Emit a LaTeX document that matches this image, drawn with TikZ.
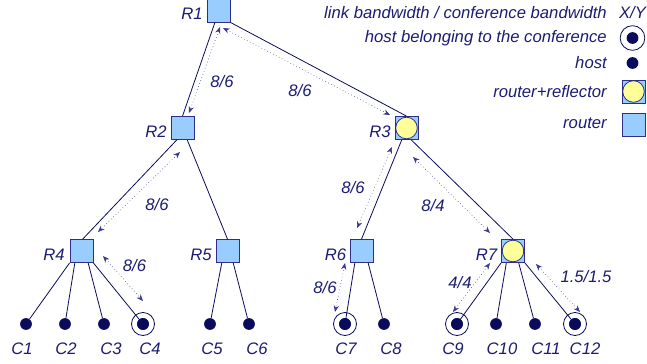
\documentclass[tikz,border=0pt]{standalone}
\usepackage{fontspec}
\setmainfont{Liberation Sans}
\usetikzlibrary{arrows.meta,calc}
\definecolor{txt}{HTML}{1C1C73}
\definecolor{dotc}{HTML}{0B0B5C}
\definecolor{rfill}{HTML}{99CCFF}
\definecolor{rborder}{HTML}{2E2E8A}
\definecolor{yfill}{HTML}{FFFF99}
\definecolor{arrc}{HTML}{3A3A90}
\tikzset{
  lbl/.style={text=txt, font=\itshape\fontsize{12.5}{14}\selectfont, inner sep=0pt},
  router/.style={draw=rborder, fill=rfill, line width=0.6pt, minimum size=17.25pt, inner sep=0pt},
  reflector/.style={router, path picture={\draw[draw=rborder, fill=yfill, line width=0.6pt] (path picture bounding box.center) circle (8.1pt);}},
  host/.style={circle, fill=dotc, minimum size=8.8pt, inner sep=0pt},
  member/.style={circle, draw=dotc, line width=0.6pt, minimum size=17.25pt, inner sep=0pt, path picture={\fill[dotc] (path picture bounding box.center) circle (4.4pt);}},
  link/.style={draw=dotc, line width=0.6pt},
  bw/.style={draw=arrc, line width=0.45pt, dotted, {Stealth[length=5pt,width=4pt]}-{Stealth[length=5pt,width=4pt]}}
}
\begin{document}
\begin{tikzpicture}[x=0.75pt,y=-0.75pt]
\useasboundingbox (0,0) rectangle (647,364);
% routers
\node[router] (R1) at (218.5,10.5) {};
\node[router] (R2) at (182.5,128) {};
\node[reflector] (R3) at (406.5,128) {};
\node[router] (R4) at (81.5,251) {};
\node[router] (R5) at (227.5,251) {};
\node[router] (R6) at (361.5,251) {};
\node[reflector] (R7) at (513,251) {};
% hosts
\node[host] (C1) at (26,324) {};
\node[host] (C2) at (65,324) {};
\node[host] (C3) at (104,324) {};
\node[member] (C4) at (143,324) {};
\node[host] (C5) at (210,324) {};
\node[host] (C6) at (249,324) {};
\node[member] (C7) at (345,324) {};
\node[host] (C8) at (384,324) {};
\node[member] (C9) at (457,324) {};
\node[host] (C10) at (496,324) {};
\node[host] (C11) at (535,324) {};
\node[member] (C12) at (575,324) {};
% router labels
\node[lbl] (lR1) at (192,14) {R1};
\node[lbl] (lR2) at (156,132) {R2};
\node[lbl] (lR3) at (380,132) {R3};
\node[lbl] (lR4) at (54,255) {R4};
\node[lbl] (lR5) at (201,255) {R5};
\node[lbl] (lR6) at (335.5,255) {R6};
\node[lbl] (lR7) at (486.5,255) {R7};
% host labels
\node[lbl] (lC1) at (22,349) {C1};
\node[lbl] (lC2) at (66,349) {C2};
\node[lbl] (lC3) at (111,349) {C3};
\node[lbl] (lC4) at (150,349) {C4};
\node[lbl] (lC5) at (212,349) {C5};
\node[lbl] (lC6) at (257,349) {C6};
\node[lbl] (lC7) at (346,349) {C7};
\node[lbl] (lC8) at (391,349) {C8};
\node[lbl] (lC9) at (453,349) {C9};
\node[lbl] (lC10) at (502,349) {C10};
\node[lbl] (lC11) at (546,349) {C11};
\node[lbl] (lC12) at (585,349) {C12};
% links between routers
\begin{scope}[on background layer/.style={}]
\draw[link] ($(R1.south west)!0.35!(R1.south east)$) -- (R2.north);
\draw[link] (R1.south east) -- (R3.north);
\draw[link] ($(R2.south west)!0.26!(R2.south east)$) -- ($(R4.north west)!0.55!(R4.north east)$);
\draw[link] ($(R2.south west)!0.7!(R2.south east)$) -- (R5.north);
\draw[link] ($(R3.south west)!0.3!(R3.south east)$) -- (R6.north);
\draw[link] ($(R3.south west)!0.7!(R3.south east)$) -- (R7.north);
% links to hosts
\draw[link] (R4.south west) -- (C1);
\draw[link] ($(R4.south west)!0.22!(R4.south east)$) -- (C2);
\draw[link] ($(R4.south west)!0.78!(R4.south east)$) -- (C3);
\draw[link] (R4.south east) -- (C4.center);
\draw[link] ($(R5.south west)!0.26!(R5.south east)$) -- (C5);
\draw[link] ($(R5.south west)!0.74!(R5.south east)$) -- (C6);
\draw[link] ($(R6.south west)!0.22!(R6.south east)$) -- (C7.center);
\draw[link] ($(R6.south west)!0.78!(R6.south east)$) -- (C8);
\draw[link] (R7.south west) -- (C9.center);
\draw[link] ($(R7.south west)!0.22!(R7.south east)$) -- (C10);
\draw[link] ($(R7.south west)!0.74!(R7.south east)$) -- (C11);
\draw[link] (R7.south east) -- (C12.center);
\end{scope}
% redraw host dots on top of link ends
\foreach \h in {C4,C7,C9,C12} {\fill[dotc] (\h.center) circle (4.4pt);}
% bandwidth arrows
\coordinate (a1s) at (220,27);  \coordinate (a1e) at (189,113);
\coordinate (a2s) at (223,28);  \coordinate (a2e) at (390,115);
\coordinate (a3s) at (180,152); \coordinate (a3e) at (98,232);
\coordinate (a4s) at (103,256); \coordinate (a4e) at (143,301);
\coordinate (a5s) at (392,147); \coordinate (a5e) at (357,228);
\coordinate (a6s) at (413,157); \coordinate (a6e) at (490,233);
\coordinate (a7s) at (345,263); \coordinate (a7e) at (335,312);
\coordinate (a8s) at (490,263); \coordinate (a8e) at (453,312);
\coordinate (a9s) at (536,264); \coordinate (a9e) at (580,312);
\foreach \i in {1,...,9} {\draw[bw] (a\i s) -- (a\i e);}
% bandwidth labels
\node[lbl] (b1) at (222,82) {8/6};
\node[lbl] (b2) at (300,91) {8/6};
\node[lbl] (b3) at (157,205) {8/6};
\node[lbl] (b4) at (134.5,266) {8/6};
\node[lbl] (b5) at (353,188) {8/6};
\node[lbl] (b6) at (433,206) {8/4};
\node[lbl] (b7) at (325,288) {8/6};
\node[lbl] (b8) at (460,283) {4/4};
\node[lbl] (b9) at (586,277) {1.5/1.5};
% legend
\node[lbl, anchor=east] (g1) at (607,13) {link bandwidth / conference bandwidth};
\node[lbl] (g1s) at (632.5,13) {X/Y};
\node[lbl, anchor=east] (g2) at (607,38) {host belonging to the conference};
\node[member, minimum size=18.5pt] (g2s) at (632.5,38) {};
\node[lbl, anchor=east] (g3) at (607,63) {host};
\node[host] (g3s) at (632.5,63) {};
\node[lbl, anchor=east] (g4) at (607,92) {router+reflector};
\node[reflector] (g4s) at (633.5,91.5) {};
\node[lbl, anchor=east] (g5) at (607,123) {router};
\node[router] (g5s) at (633.5,124.5) {};
\end{tikzpicture}
\end{document}
